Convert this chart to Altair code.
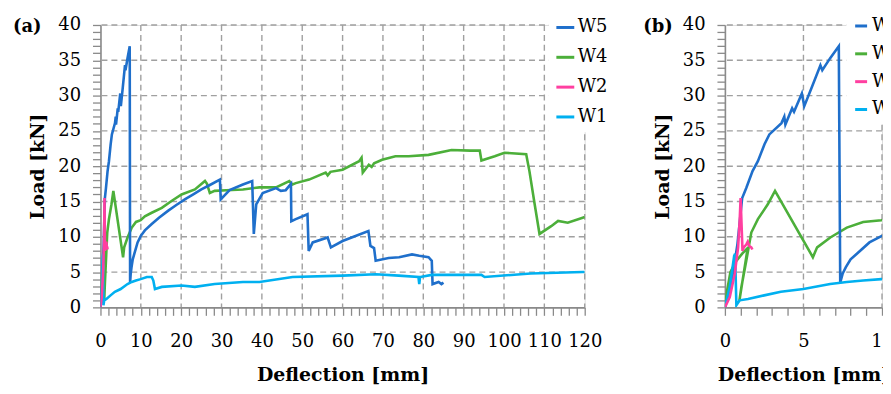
import altair as alt
import pandas as pd

FONT = "DejaVu Serif"
SERIES = ["W5", "W4", "W2", "W1"]
COLORS = ["#1F6FCB", "#4CAF3A", "#FF3FA0", "#00B0F0"]

W5_x = [0, 0.4, 0.8, 1.1, 1.36, 1.76, 2.1, 2.52, 2.83, 3.6, 3.78, 3.85, 4.28, 4.4, 4.9, 5.05, 5.5, 6.08, 6.2, 6.7, 7.25,
        7.34, 7.5, 7.7, 8.0, 8.4, 9.2, 9.96, 11.0, 12.7, 14.5, 16.8, 18.8, 20.9, 23.0, 25.0, 27.0, 29.6,
        29.8, 32.0, 35.3, 37.6, 38.0, 38.6, 40.2, 43.5, 44.7, 45.9, 47.2, 47.3, 48.4, 51.3, 51.6, 52.6,
        56.3, 57.1, 60.0, 63.2, 66.4, 66.9, 67.8, 68.2, 71.4, 74.0, 77.2, 79.0, 81.3, 82.1, 82.3, 83.8, 84.5, 85.0]
W5_y = [0, 3.0, 9.0, 15.5, 16.9, 19.3, 20.7, 23.1, 24.5, 26.1, 27.0, 25.9, 28.2, 27.7, 30.3, 28.5, 31.0, 34.3, 33.6, 35.3, 37.0,
        3.5, 4.8, 5.7, 6.8, 7.6, 9.2, 10.1, 10.9, 11.8, 12.7, 13.7, 14.5, 15.3, 16.0, 16.7, 17.3, 18.1,
        15.3, 16.6, 17.4, 17.9, 10.4, 14.6, 16.2, 16.9, 16.5, 16.6, 17.5, 12.2, 12.5, 13.2, 8.0, 9.2,
        9.9, 8.5, 9.4, 10.1, 10.8, 8.7, 8.4, 6.6, 7.0, 7.1, 7.5, 7.3, 7.1, 6.6, 3.3, 3.6, 3.3, 3.5]

W4_x = [0, 0.15, 0.35, 0.7, 1.1, 1.45, 0.92, 1.05, 1.36, 1.68, 2.1, 2.73, 3.19, 5.6, 5.87, 6.71, 7.76, 8.8, 9.96,
        11.0, 12.7, 15.2, 17.7, 20.1, 23.4, 25.9, 26.4, 27.1, 28.3, 31.2, 35.3, 39.4, 43.5, 46.8, 47.6, 48.4,
        51.7, 55.8, 56.3, 57.0, 60.0, 64.1, 64.7, 65.0, 66.5, 67.2, 67.8, 69.8, 73.1, 76.4, 81.3, 87.0, 91.6,
        94.0, 94.4, 97.7, 100.1, 105.5, 106.3, 107.6, 108.8, 111.7, 113.4, 115.8, 119.5, 120.0]
W4_y = [0, 2.5, 5.0, 6.5, 7.6, 8.4, 0.9, 2.9, 6.6, 10.6, 12.5, 14.6, 16.5, 7.1, 8.5, 9.9, 11.3, 12.1, 12.35,
        12.9, 13.4, 14.1, 15.1, 16.0, 16.7, 17.9, 17.5, 16.2, 16.5, 16.6, 16.7, 17.0, 17.0, 17.9, 17.4, 17.6,
        18.1, 19.1, 18.7, 19.2, 19.5, 20.7, 21.2, 19.1, 20.2, 19.9, 20.4, 20.9, 21.4, 21.4, 21.6, 22.3, 22.2,
        22.2, 20.8, 21.4, 21.9, 21.7, 19.3, 14.6, 10.4, 11.5, 12.25, 12.0, 12.7, 12.8]

W2_x = [0, 0.31, 0.63, 0.84, 0.94, 1.0, 1.12, 1.2, 1.36, 1.45, 1.55, 1.68, 1.75]
W2_y = [0, 1.45, 4.8, 8.5, 12.3, 15.5, 8.0, 8.5, 8.9, 9.3, 8.7, 8.5, 8.2]

W1_x = [0, 0.31, 0.59, 0.65, 0.73, 0.94, 1.47, 2.5, 3.56, 5.0, 6.7, 7.76, 8.8, 9.96, 11.5, 12.7, 13.1, 13.5,
        15.2, 20.1, 23.4, 28.3, 35.3, 39.4, 47.6, 60.0, 68.2, 73.9, 78.8, 79.0, 79.2, 82.1, 94.4, 95.2, 106.6,
        119.5, 120.0]
W1_y = [0, 2.9, 7.3, 7.6, 0.3, 1.0, 1.2, 1.7, 2.2, 2.6, 3.3, 3.6, 3.8, 4.0, 4.3, 4.3, 3.8, 2.6,
        2.9, 3.1, 2.9, 3.3, 3.6, 3.6, 4.3, 4.5, 4.7, 4.5, 4.3, 3.3, 4.3, 4.6, 4.6, 4.3, 4.8,
        5.0, 5.0]

# grid / tick positions
A_X_MAJOR = list(range(10, 121, 10))
A_X_MINOR = list(range(0, 121, 2))
B_X_MAJOR = [5, 10]
B_X_MINOR = list(range(0, 11))
Y_MAJOR = list(range(5, 41, 5))
Y_MINOR = list(range(0, 41))

rows = []
for name, xs, ys in [("W4", W4_x, W4_y), ("W5", W5_x, W5_y), ("W1", W1_x, W1_y), ("W2", W2_x, W2_y)]:
    for i, (xv, yv) in enumerate(zip(xs, ys)):
        rows.append({"series": name, "x": xv, "y": yv, "i": i})
df = pd.DataFrame(rows)

GRID = "#A0A0A0"
AXC = "#8A8A8A"


def make_axis(values, major, title, title_pad, label_pad):
    return alt.Axis(
        values=values,
        labelExpr=f"datum.value % {major} === 0 ? datum.label : ''",
        grid=False,
        domainColor=AXC, domainWidth=1.6, tickColor=AXC, tickWidth=1.3, tickSize=8,
        labelFont=FONT, labelFontSize=18, labelColor="black", labelPadding=label_pad,
        labelOverlap=False, labelFlush=False,
        title=title, titleFont=FONT, titleFontSize=19, titleFontWeight="bold", titleColor="black",
        titlePadding=title_pad,
    )


def panel(xmax, xminor, xmajor_step, xgrid, width, label, label_dx, legend_x, sym):
    xenc = alt.X("x:Q", scale=alt.Scale(domain=[0, xmax], nice=False, zero=True),
                 axis=make_axis(xminor, xmajor_step, "Deflection [mm]", 16, 17))
    yenc = alt.Y("y:Q", scale=alt.Scale(domain=[0, 40], nice=False),
                 axis=make_axis(Y_MINOR, 5, "Load [kN]", 10, 12))
    gx = alt.Chart(pd.DataFrame({"x": xgrid})).mark_rule(
        color=GRID, strokeDash=[6, 4], strokeWidth=1.4).encode(x=xenc)
    gy = alt.Chart(pd.DataFrame({"y": Y_MAJOR})).mark_rule(
        color=GRID, strokeDash=[6, 4], strokeWidth=1.4).encode(y=yenc)
    lines = alt.Chart(df).mark_line(strokeWidth=2.6, clip=True).encode(
        x=xenc,
        y=yenc,
        color=alt.Color("series:N", scale=alt.Scale(domain=SERIES, range=COLORS),
                        legend=alt.Legend(orient="none", legendX=legend_x, legendY=-14, title=None,
                                          fillColor="white", padding=6, symbolType="stroke",
                                          symbolSize=sym, symbolStrokeWidth=3, labelFont=FONT,
                                          labelFontSize=18, labelColor="black", rowPadding=10,
                                          labelOffset=2)),
        detail="series:N",
        order="i:Q",
    )
    tag = alt.Chart(pd.DataFrame({"t": [label]})).mark_text(
        font=FONT, fontSize=18, fontWeight="bold", align="left", baseline="middle", color="black"
    ).encode(text="t:N", x=alt.value(label_dx), y=alt.value(2))
    return alt.layer(gx, gy, lines, tag).properties(width=width, height=284)


pa = panel(120, A_X_MINOR, 10, A_X_MAJOR, 487, "(a)", -88, 451, 324)
pb = panel(10, B_X_MINOR, 5, B_X_MAJOR, 158, "(b)", -82, 122, 144)

chart = alt.hconcat(pa, pb, spacing=28).resolve_scale(
    x="independent", y="independent", color="independent"
).resolve_legend(color="independent").properties(
    padding={"left": 4, "top": 1, "right": -26, "bottom": 0}
).configure_view(strokeWidth=0).configure(background="white")

chart.save("out.html", embed_options={"renderer": "svg", "actions": False})
